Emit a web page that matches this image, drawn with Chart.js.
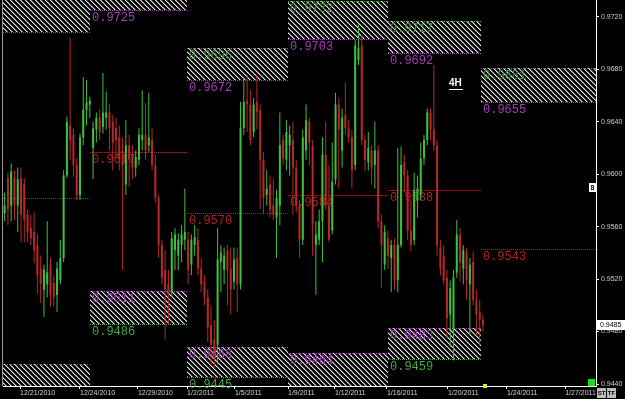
<!DOCTYPE html>
<html><head><meta charset="utf-8">
<script src="https://cdn.jsdelivr.net/npm/chart.js@4/dist/chart.umd.min.js"></script>
<style>html,body{margin:0;padding:0;background:#000;overflow:hidden}canvas{display:block}</style>
</head><body>
<canvas id="c" width="625" height="399"></canvas>
<script>
// ---- data (4H candles) ----
const opens = [0.9570,0.9597,0.9576,0.9597,0.9576,0.9597,0.9592,0.9569,0.9559,0.9556,0.9546,0.9528,0.9512,0.9516,0.9531,0.9517,0.9508,0.9519,0.9536,0.9599,
0.9637,0.9630,0.9607,0.9584,0.9628,0.9649,0.9653,0.9620,0.9634,0.9643,0.9636,0.9643,0.9647,0.9640,0.9635,0.9628,0.9618,0.9592,0.9622,0.9615,
0.9605,0.9611,0.9626,0.9630,0.9622,0.9626,0.9607,0.9582,0.9546,0.9527,0.9516,0.9510,0.9542,0.9538,0.9546,0.9550,0.9550,0.9531,0.9546,0.9550,
0.9528,0.9518,0.9506,0.9485,0.9474,0.9470,0.9533,0.9527,0.9542,0.9528,0.9518,0.9536,0.9516,0.9635,0.9656,0.9653,0.9632,0.9655,0.9649,0.9611,
0.9584,0.9592,0.9576,0.9567,0.9576,0.9626,0.9611,0.9622,0.9626,0.9605,0.9576,0.9550,0.9618,0.9640,0.9622,0.9546,0.9550,0.9564,0.9615,0.9576,
0.9557,0.9596,0.9653,0.9618,0.9645,0.9635,0.9628,0.9607,0.9687,0.9698,0.9626,0.9609,0.9618,0.9607,0.9618,0.9564,0.9531,0.9551,0.9536,0.9546,
0.9519,0.9546,0.9609,0.9599,0.9557,0.9550,0.9580,0.9584,0.9612,0.9626,0.9647,0.9634,0.9622,0.9544,0.9538,0.9521,0.9493,0.9481,0.9525,0.9554,
0.9528,0.9541,0.9516,0.9533,0.9504,0.9495,0.9489];
const highs = [0.9586,0.9601,0.9608,0.9603,0.9605,0.9605,0.9597,0.9573,0.9569,0.9571,0.9554,0.9538,0.9531,0.9564,0.9536,0.9523,0.9533,0.9550,0.9603,0.9644,
0.9704,0.9635,0.9612,0.9631,0.9674,0.9672,0.9659,0.9640,0.9647,0.9649,0.9677,0.9663,0.9653,0.9645,0.9643,0.9637,0.9628,0.9641,0.9630,0.9622,
0.9618,0.9635,0.9664,0.9654,0.9662,0.9635,0.9615,0.9584,0.9550,0.9542,0.9527,0.9556,0.9559,0.9555,0.9561,0.9589,0.9556,0.9554,0.9561,0.9559,
0.9536,0.9523,0.9512,0.9500,0.9489,0.9559,0.9546,0.9544,0.9546,0.9544,0.9544,0.9544,0.9655,0.9673,0.9676,0.9664,0.9658,0.9676,0.9653,0.9617,
0.9603,0.9599,0.9596,0.9588,0.9647,0.9630,0.9641,0.9637,0.9640,0.9611,0.9580,0.9634,0.9653,0.9643,0.9626,0.9564,0.9573,0.9628,0.9640,0.9607,
0.9624,0.9662,0.9658,0.9650,0.9670,0.9641,0.9634,0.9702,0.9714,0.9706,0.9630,0.9632,0.9622,0.9640,0.9622,0.9569,0.9561,0.9557,0.9550,0.9551,
0.9620,0.9621,0.9615,0.9603,0.9580,0.9601,0.9599,0.9624,0.9630,0.9650,0.9650,0.9683,0.9626,0.9550,0.9546,0.9527,0.9519,0.9527,0.9565,0.9559,
0.9546,0.9544,0.9536,0.9541,0.9512,0.9504,0.9493];
const lows = [0.9564,0.9561,0.9564,0.9565,0.9556,0.9548,0.9548,0.9548,0.9546,0.9532,0.9509,0.9502,0.9491,0.9506,0.9499,0.9499,0.9495,0.9516,0.9533,0.9597,
0.9611,0.9598,0.9580,0.9580,0.9622,0.9637,0.9643,0.9596,0.9624,0.9626,0.9631,0.9634,0.9618,0.9603,0.9612,0.9603,0.9527,0.9584,0.9590,0.9596,
0.9598,0.9607,0.9618,0.9611,0.9617,0.9603,0.9578,0.9536,0.9516,0.9474,0.9485,0.9506,0.9527,0.9527,0.9533,0.9542,0.9516,0.9523,0.9538,0.9523,
0.9510,0.9500,0.9472,0.9455,0.9452,0.9455,0.9510,0.9516,0.9500,0.9493,0.9512,0.9495,0.9512,0.9630,0.9632,0.9622,0.9628,0.9634,0.9573,0.9569,
0.9576,0.9567,0.9565,0.9536,0.9561,0.9607,0.9603,0.9599,0.9569,0.9571,0.9536,0.9546,0.9611,0.9607,0.9538,0.9508,0.9546,0.9533,0.9573,0.9548,
0.9554,0.9592,0.9589,0.9605,0.9630,0.9624,0.9589,0.9603,0.9683,0.9622,0.9602,0.9603,0.9592,0.9589,0.9559,0.9513,0.9527,0.9528,0.9510,0.9512,
0.9510,0.9544,0.9586,0.9550,0.9541,0.9546,0.9567,0.9580,0.9607,0.9622,0.9626,0.9618,0.9538,0.9523,0.9516,0.9475,0.9468,0.9458,0.9521,0.9518,
0.9516,0.9504,0.9477,0.9500,0.9477,0.9470,0.9480];
const closes = [0.9576,0.9573,0.9602,0.9576,0.9596,0.9569,0.9565,0.9556,0.9551,0.9542,0.9523,0.9516,0.9527,0.9525,0.9508,0.9506,0.9528,0.9536,0.9599,0.9640,
0.9626,0.9607,0.9584,0.9628,0.9649,0.9655,0.9656,0.9635,0.9643,0.9632,0.9647,0.9647,0.9635,0.9624,0.9626,0.9611,0.9607,0.9622,0.9611,0.9605,
0.9613,0.9630,0.9630,0.9618,0.9628,0.9607,0.9582,0.9546,0.9521,0.9512,0.9508,0.9551,0.9554,0.9550,0.9554,0.9556,0.9527,0.9550,0.9552,0.9528,
0.9516,0.9506,0.9483,0.9470,0.9462,0.9535,0.9540,0.9538,0.9527,0.9512,0.9535,0.9516,0.9635,0.9655,0.9653,0.9626,0.9653,0.9647,0.9611,0.9582,
0.9589,0.9573,0.9569,0.9582,0.9622,0.9612,0.9632,0.9630,0.9605,0.9576,0.9550,0.9628,0.9641,0.9624,0.9561,0.9554,0.9564,0.9615,0.9576,0.9550,
0.9594,0.9653,0.9634,0.9643,0.9635,0.9628,0.9603,0.9698,0.9696,0.9626,0.9611,0.9620,0.9605,0.9618,0.9564,0.9546,0.9556,0.9538,0.9546,0.9519,
0.9546,0.9607,0.9599,0.9557,0.9546,0.9588,0.9589,0.9612,0.9626,0.9647,0.9634,0.9622,0.9546,0.9528,0.9519,0.9490,0.9513,0.9521,0.9554,0.9533,
0.9542,0.9519,0.9531,0.9504,0.9493,0.9489,0.9485];

const dateLabels = ['12/21/2010','12/24/2010','12/29/2010','1/2/2011','1/5/2011','1/9/2011','1/12/2011','1/16/2011','1/20/2011','1/24/2011','1/27/2011'];
const dateTicks  = [4.7, 23, 40.7, 55.7, 70.3, 86.5, 100.8, 116.7, 135.3, 153.3, 171.1];
const yTicks = [0.9440,0.9480,0.9520,0.9560,0.9600,0.9640,0.9680,0.9720];

// weekly zones (bar-index ranges) and levels
const weekStarts   = [-0.5, 26, 55.7, 86.5, 117, 145.4];
const weekEnds     = [26, 55.7, 86.5, 117, 145.4, 180.5];
const resistTop    = [0.9745, 0.9745, 0.9696, 0.9732, 0.9717, 0.9681];
const resistBottom = [0.9708, 0.9725, 0.9672, 0.9703, 0.9692, 0.9655];
const supportTop   = [0.9455, 0.9511, 0.9468, 0.9464, 0.9483, null];
const supportBottom= [0.9430, 0.9486, 0.9445, 0.9430, 0.9459, null];
const pivots       = [0.9582, 0.9617, 0.9570, 0.9584, 0.9588, 0.9543];
const showLabels   = [false, true, true, true, true, true];
const currentPrice = 0.9485;
const timeframe = '4H';

const GREEN='#3ec03e', RED='#b82828', PURPLE='#a43cb8', ZGREEN='#46a846', DIMGREEN='#3e8e3e', PIVRED='#b42020';

const idx = opens.map((_, i) => i);
const wickData = idx.map(i => ({x:i, y:[lows[i], highs[i]]}));
const bodyData = idx.map(i => ({x:i, y:[opens[i], closes[i]]}));
const colorFn = ctx => (ctx.dataIndex == null) ? GREEN : (closes[ctx.dataIndex] >= opens[ctx.dataIndex] ? GREEN : RED);

// hatch pattern
const hc = document.createElement('canvas'); hc.width = 5; hc.height = 5;
(function(){ const g = hc.getContext('2d'); g.fillStyle = '#000'; g.fillRect(0,0,5,5);
  for (let k=0;k<5;k++){ g.fillStyle='#e4e4e4'; g.fillRect(k,k,1,1); g.fillStyle='#6e6e6e'; g.fillRect((k+1)%5,k,1,1); } })();

function dottedH(ctx, x0, x1, yy, color){
  ctx.strokeStyle = color; ctx.lineWidth = 1; ctx.setLineDash([1,1]);
  ctx.beginPath(); ctx.moveTo(x0, yy+0.5); ctx.lineTo(x1, yy+0.5); ctx.stroke(); ctx.setLineDash([]);
}

const overlay = {
  id: 'overlay',
  beforeDatasetsDraw(chart){
    const {ctx, chartArea:a, scales:{x, y}} = chart;
    const pat = ctx.createPattern(hc, 'repeat');
    const labels = [];
    ctx.save();
    ctx.beginPath(); ctx.rect(a.left, a.top, a.right-a.left, a.bottom-a.top); ctx.clip();
    for (let s=0; s<weekStarts.length; s++){
      const x0 = Math.round(x.getPixelForValue(weekStarts[s]));
      const x1 = Math.round(x.getPixelForValue(weekEnds[s]));
      const zones = [[resistTop[s], resistBottom[s], ZGREEN, PURPLE, DIMGREEN, PURPLE]];
      if (supportTop[s] != null) zones.push([supportTop[s], supportBottom[s], PURPLE, ZGREEN, PURPLE, ZGREEN]);
      for (const [t, b, ct, cb, lt, lb] of zones){
        const yt = Math.round(y.getPixelForValue(t)), yb = Math.round(y.getPixelForValue(b));
        ctx.fillStyle = pat; ctx.fillRect(x0, yt, x1-x0, yb-yt);
        dottedH(ctx, x0, x1, yt, ct); dottedH(ctx, x0, x1, yb, cb);
        if (showLabels[s]){
          if (yt >= a.top && yt < a.bottom) labels.push([t, x0+2, yt+2, lt]);
          if (yb >= a.top && yb < a.bottom) labels.push([b, x0+2, yb+2, lb]);
        }
      }
      const yp = Math.round(y.getPixelForValue(pivots[s]));
      dottedH(ctx, x0, x1, yp, PIVRED);
      if (showLabels[s]) labels.push([pivots[s], x0+2, yp+2, PIVRED]);
    }
    ctx.restore();
    ctx.save();
    ctx.font = '12px "Liberation Mono"'; ctx.textBaseline = 'top'; ctx.textAlign = 'left';
    for (const [v, lx, ly, c] of labels){ ctx.fillStyle = c; ctx.fillText(v.toFixed(4), lx, ly); }
    ctx.fillStyle = '#9a9a9a'; ctx.fillRect(2, 0, 1, a.bottom);
    ctx.restore();
  },
  afterDraw(chart){
    const {ctx, chartArea:a, scales:{x, y}} = chart;
    ctx.save();
    ctx.font = 'bold 10px "Liberation Sans"'; ctx.fillStyle = '#ffffff'; ctx.textBaseline = 'top';
    ctx.fillText(timeframe, 449, 78);
    ctx.fillRect(449, 89, 14, 1);
    const py = Math.round(y.getPixelForValue(currentPrice));
    ctx.fillStyle = '#ffffff'; ctx.fillRect(a.right+1, py-5, 28, 10);
    ctx.fillStyle = '#000000'; ctx.font = '7px "Liberation Sans"'; ctx.textBaseline = 'middle'; ctx.textAlign = 'left';
    ctx.fillText(currentPrice.toFixed(4), a.right+4, py);
    ctx.fillStyle = '#ffffff'; ctx.fillRect(589, 183, 7, 9);
    ctx.fillStyle = '#000'; ctx.font = 'bold 7px "Liberation Sans"'; ctx.textAlign='center';
    ctx.fillText('8', 592.5, 188);
    ctx.fillStyle = '#14e014'; ctx.fillRect(588, 379, 7, 7);
    ctx.fillStyle = '#e8e040'; ctx.fillRect(483, 384, 4, 4);
    ctx.fillStyle = '#bdbdbd'; ctx.fillRect(597, 388, 9, 10); ctx.fillRect(607, 388, 9, 10);
    ctx.fillStyle = '#000'; ctx.font = 'bold 6px "Liberation Sans"'; ctx.textAlign='center';
    ctx.fillText('ST', 601.5, 393); ctx.fillText('TF', 611.5, 393);
    ctx.restore();
  }
};

new Chart(document.getElementById('c'), {
  type: 'bar',
  data: { datasets: [
    {label:'wick', data: wickData, backgroundColor: colorFn, barThickness: 1, grouped: false, borderWidth: 0, minBarLength: 1, order: 2, inflateAmount: 0},
    {label:'body', data: bodyData, backgroundColor: colorFn, barThickness: 2, grouped: false, borderWidth: 0, minBarLength: 1, order: 1, inflateAmount: 0}
  ]},
  options: {
    responsive: false, animation: false, devicePixelRatio: 1,
    layout: { padding: { left: 3, right: 0, top: 0, bottom: 0 } },
    plugins: { legend: { display: false }, tooltip: { enabled: false } },
    scales: {
      x: { type: 'linear', min: -0.5, max: 180.5, offset: false,
        grid: { drawOnChartArea: false, drawTicks: true, tickLength: 3, color: '#ffffff', offset: false },
        border: { display: true, color: '#ffffff', width: 1 },
        afterBuildTicks: s => { s.ticks = dateTicks.map(v => ({value: v})); },
        ticks: { autoSkip: false, maxRotation: 0, minRotation: 0, align: 'start', padding: 0, color: '#d0d0d0',
          font: { size: 7, family: '"Liberation Sans"' }, callback: (v, i) => dateLabels[i] },
        afterFit: s => { s.height = 13; s.paddingLeft = 0; s.paddingRight = 0; } },
      y: { position: 'right', min: 0.94385, max: 0.97327,
        grid: { drawOnChartArea: false, drawTicks: true, tickLength: 3, color: '#ffffff' },
        border: { display: true, color: '#ffffff', width: 1 },
        afterBuildTicks: s => { s.ticks = yTicks.map(v => ({value: v})); },
        ticks: { color: '#d0d0d0', padding: 2, font: { size: 7, family: '"Liberation Sans"' }, callback: v => v.toFixed(4) },
        afterFit: s => { s.width = 29; s.paddingTop = 0; s.paddingBottom = 0; } }
    }
  },
  plugins: [overlay]
});
</script>
</body></html>
